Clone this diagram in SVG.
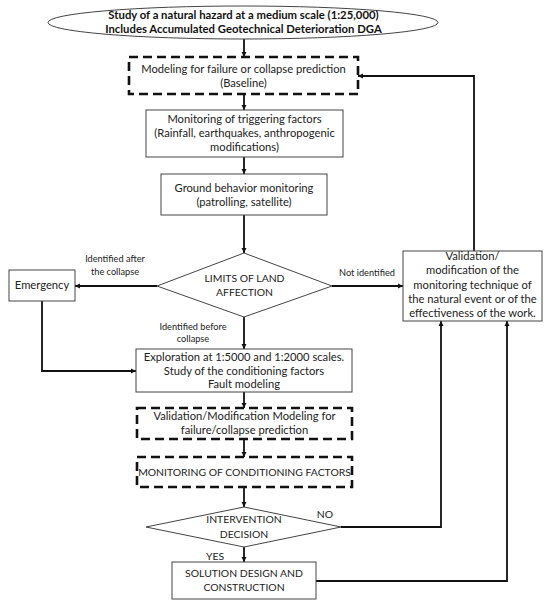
<svg xmlns="http://www.w3.org/2000/svg" width="550" height="605" viewBox="0 0 550 605">
<defs>
<style>
.t{font-family:Lato,"Liberation Sans",Arial,sans-serif;font-size:11.2px;fill:#222;text-anchor:middle}
.u{font-size:10.4px}
.b{font-weight:bold;font-size:11.3px;fill:#111}
.s{font-size:9.2px}
.box{fill:#fff;stroke:#444;stroke-width:1}
.dash{fill:#fff;stroke:#111;stroke-width:2.6;stroke-dasharray:9 5}
.c{fill:none;stroke:#111;stroke-width:1.8}
</style>
<marker id="ah" viewBox="0 0 10 10" refX="10" refY="5" markerWidth="3" markerHeight="3" orient="auto" markerUnits="strokeWidth">
<path d="M0,0 L10,5 L0,10 z" fill="#111"/>
</marker>
</defs>
<rect width="550" height="605" fill="#fff"/>

<g id="connectors">
<path class="c" d="M244,39 V57" marker-end="url(#ah)"/>
<path class="c" d="M244,94 V110" marker-end="url(#ah)"/>
<path class="c" d="M244,157 V174" marker-end="url(#ah)"/>
<path class="c" d="M244,215 V253" marker-end="url(#ah)"/>
<path class="c" d="M157,286 H75" marker-end="url(#ah)"/>
<path class="c" d="M332,286 H403" marker-end="url(#ah)"/>
<path class="c" d="M244,317 V349" marker-end="url(#ah)"/>
<path class="c" d="M42,301 V371 H136" marker-end="url(#ah)"/>
<path class="c" d="M244,392 V408" marker-end="url(#ah)"/>
<path class="c" d="M244,439 V457" marker-end="url(#ah)"/>
<path class="c" d="M244,487 V507" marker-end="url(#ah)"/>
<path class="c" d="M244,547 V562" marker-end="url(#ah)"/>
<path class="c" d="M341,527 H441 V321" marker-end="url(#ah)"/>
<path class="c" d="M316,581 H507 V321" marker-end="url(#ah)"/>
<path class="c" d="M474,251 V76 H358" marker-end="url(#ah)"/>
</g>

<g id="start">
<ellipse cx="243" cy="22.5" rx="195" ry="16.5" class="box"/>
<text class="t b" x="243.5" y="19">Study of a natural hazard at a medium scale (1:25,000)</text>
<text class="t b" x="243.5" y="33">Includes Accumulated Geotechnical Deterioration DGA</text>
</g>

<g id="modeling">
<rect x="129" y="57" width="229" height="37" class="dash"/>
<text class="t" x="243.5" y="73">Modeling for failure or collapse prediction</text>
<text class="t" x="243.5" y="87">(Baseline)</text>
</g>

<g id="triggering">
<rect x="146" y="110" width="197" height="47" class="box"/>
<text class="t" x="244.5" y="123">Monitoring of triggering factors</text>
<text class="t" x="244.5" y="137">(Rainfall, earthquakes, anthropogenic</text>
<text class="t" x="244.5" y="151">modifications)</text>
</g>

<g id="ground">
<rect x="161" y="174" width="166" height="41" class="box"/>
<text class="t" x="244" y="192">Ground behavior monitoring</text>
<text class="t" x="244" y="206">(patrolling, satellite)</text>
</g>

<g id="limits">
<polygon points="244,253 332,286 244,317 157,286" class="box"/>
<text class="t u" x="244.5" y="282">LIMITS OF LAND</text>
<text class="t u" x="244.5" y="296">AFFECTION</text>
</g>

<g id="emergency">
<rect x="9" y="270" width="66" height="31" class="box"/>
<text class="t" x="42" y="289">Emergency</text>
</g>

<g id="validation">
<rect x="403" y="251" width="139" height="70" class="box"/>
<text class="t" x="472.5" y="260">Validation/</text>
<text class="t" x="472.5" y="274">modification of the</text>
<text class="t" x="472.5" y="288.5">monitoring technique of</text>
<text class="t" x="472.5" y="303">the natural event or of the</text>
<text class="t" x="472.5" y="317">effectiveness of the work.</text>
</g>

<g id="exploration">
<rect x="136" y="349" width="216" height="43" class="box"/>
<text class="t" x="244" y="361">Exploration at 1:5000 and 1:2000 scales.</text>
<text class="t" x="244" y="374.5">Study of the conditioning factors</text>
<text class="t" x="244" y="388">Fault modeling</text>
</g>

<g id="validation-modeling">
<rect x="137" y="408" width="215" height="31" class="dash"/>
<text class="t" x="244.5" y="420">Validation/Modification Modeling for</text>
<text class="t" x="244.5" y="434">failure/collapse prediction</text>
</g>

<g id="conditioning">
<rect x="137" y="457" width="215" height="30" class="dash"/>
<text class="t u" x="244.5" y="476">MONITORING OF CONDITIONING FACTORS</text>
</g>

<g id="intervention">
<polygon points="244,507 341,527 244,547 146,527" class="box"/>
<text class="t u" x="244" y="523">INTERVENTION</text>
<text class="t u" x="244" y="538">DECISION</text>
</g>

<g id="solution">
<rect x="172" y="562" width="144" height="37" class="box"/>
<text class="t u" x="244" y="577">SOLUTION DESIGN AND</text>
<text class="t u" x="244" y="591">CONSTRUCTION</text>
</g>

<g id="labels">
<text class="t s" x="115" y="262">Identified after</text>
<text class="t s" x="115" y="275">the collapse</text>
<text class="t s" x="193" y="330">Identified before</text>
<text class="t s" x="193" y="342">collapse</text>
<text class="t s" x="367" y="276">Not identified</text>
<text class="t u" x="215" y="560">YES</text>
<text class="t u" x="325" y="518">NO</text>
</g>
</svg>
